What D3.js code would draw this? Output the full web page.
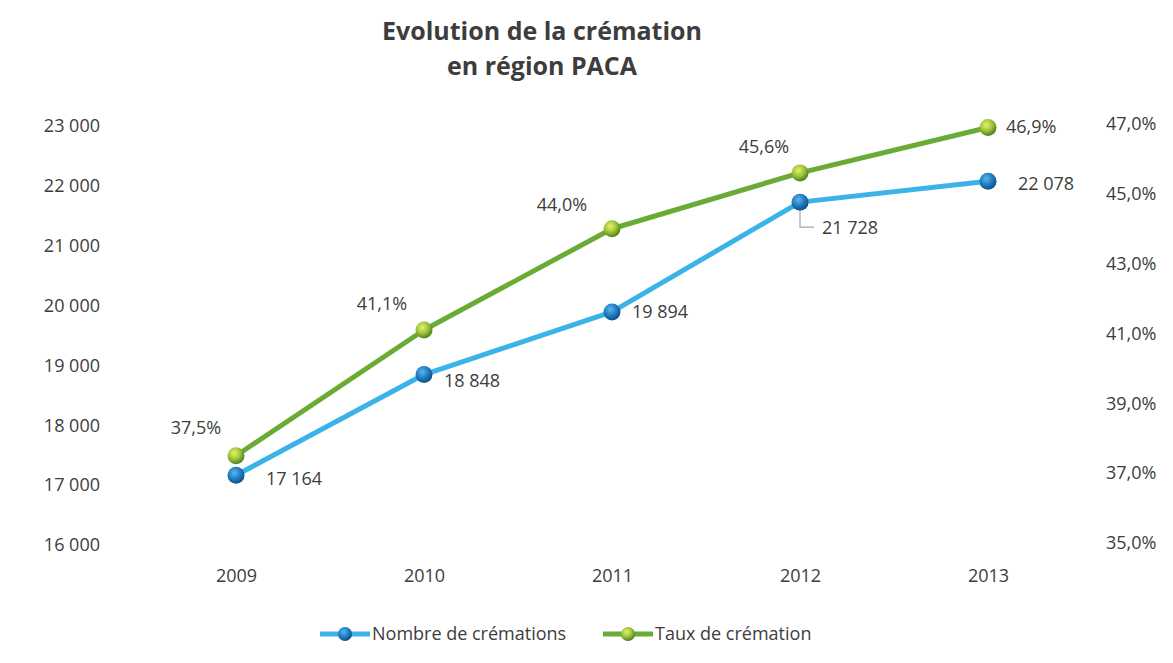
<!DOCTYPE html>
<html>
<head>
<meta charset="utf-8">
<script src="https://cdn.jsdelivr.net/npm/d3@7"></script>
<style>
  body { margin: 0; background: #fff; }
  text { font-family: "Open Sans", sans-serif; fill: #3d3d3d; }
</style>
</head>
<body>
<div id="chart"></div>
<script>
const width = 1173;
const height = 663;

const years = ["2009", "2010", "2011", "2012", "2013"];
const nombre = [17164, 18848, 19894, 21728, 22078];
const taux = [37.5, 41.1, 44.0, 45.6, 46.9];
const leftTicks = [16000, 17000, 18000, 19000, 20000, 21000, 22000, 23000];
const rightTicks = [35, 37, 39, 41, 43, 45, 47];

const blueLine = "#3cb3e8";
const greenLine = "#6aab36";
const fontFam = "'Open Sans', sans-serif";
const fontSize = "18px";

// label placement per point (layout only)
const tauxLabelPos = [
  {dx: -40, dy: -22, anchor: "middle"},
  {dx: -42, dy: -20, anchor: "middle"},
  {dx: -50, dy: -18, anchor: "middle"},
  {dx: -36, dy: -20, anchor: "middle"},
  {dx: 18, dy: 6, anchor: "start"}
];
const nombreLabelPos = [
  {dx: 30, dy: 10, anchor: "start"},
  {dx: 20, dy: 12, anchor: "start"},
  {dx: 20, dy: 6, anchor: "start"},
  {dx: 22, dy: 32, anchor: "start"},
  {dx: 30, dy: 9, anchor: "start"}
];

const svg = d3.select("#chart").append("svg")
  .attr("width", width)
  .attr("height", height);

const defs = svg.append("defs");
function ballGradient(id, light, mid, dark) {
  const g = defs.append("radialGradient").attr("id", id)
    .attr("cx", "40%").attr("cy", "35%").attr("r", "65%");
  g.append("stop").attr("offset", "0%").attr("stop-color", light);
  g.append("stop").attr("offset", "55%").attr("stop-color", mid);
  g.append("stop").attr("offset", "100%").attr("stop-color", dark);
}
ballGradient("ballBlue", "#5fb4e8", "#1f7fc4", "#0f4f86");
ballGradient("ballGreen", "#e8f06a", "#9cc43a", "#4f7d1c");

const x = d3.scalePoint().domain(years).range([236, 988]);
const yL = d3.scaleLinear().domain([16000, 23000]).range([545, 126]);
const yR = d3.scaleLinear().domain([35, 47]).range([543, 124]);

// title
svg.append("text")
  .attr("x", 542).attr("y", 40)
  .attr("text-anchor", "middle")
  .style("font-size", "25px").style("font-weight", "bold")
  .text("Evolution de la crémation");
svg.append("text")
  .attr("x", 542).attr("y", 75)
  .attr("text-anchor", "middle")
  .style("font-size", "25px").style("font-weight", "bold")
  .text("en région PACA");

const fmtNum = d => d3.format(",")(d).replace(/,/g, " ");
const fmtPct = (d, p) => d.toFixed(p).replace(".", ",") + "%";

function styleTicks(g) {
  g.select(".domain").remove();
  g.selectAll("text").style("font-size", fontSize).attr("fill", "#3d3d3d")
    .style("font-family", fontFam);
}

// left axis
svg.append("g")
  .attr("transform", "translate(100,0)")
  .call(d3.axisLeft(yL).tickValues(leftTicks).tickSize(0).tickPadding(0).tickFormat(fmtNum))
  .call(styleTicks);

// right axis
svg.append("g")
  .attr("transform", "translate(1106,0)")
  .call(d3.axisRight(yR).tickValues(rightTicks).tickSize(0).tickPadding(0).tickFormat(d => fmtPct(d, 1)))
  .call(styleTicks);

// x axis
svg.append("g")
  .attr("transform", "translate(0,569)")
  .call(d3.axisBottom(x).tickSize(0).tickPadding(0))
  .call(styleTicks);

// lines
const lineN = d3.line().x((d, i) => x(years[i])).y(d => yL(d));
const lineT = d3.line().x((d, i) => x(years[i])).y(d => yR(d));

svg.append("path").datum(taux)
  .attr("d", lineT).attr("fill", "none")
  .attr("stroke", greenLine).attr("stroke-width", 5).attr("stroke-linejoin", "round");
svg.append("path").datum(nombre)
  .attr("d", lineN).attr("fill", "none")
  .attr("stroke", blueLine).attr("stroke-width", 5).attr("stroke-linejoin", "round");

// leader line for 21 728
svg.append("path")
  .attr("d", `M${x("2012")},${yL(21728) + 9}V${yL(21728) + 25}H${x("2012") + 14}`)
  .attr("fill", "none").attr("stroke", "#9aa6b2").attr("stroke-width", 1.2);

// markers
svg.append("g").selectAll("circle")
  .data(taux).join("circle")
  .attr("cx", (d, i) => x(years[i])).attr("cy", d => yR(d))
  .attr("r", 8.5).attr("fill", "url(#ballGreen)");
svg.append("g").selectAll("circle")
  .data(nombre).join("circle")
  .attr("cx", (d, i) => x(years[i])).attr("cy", d => yL(d))
  .attr("r", 8.5).attr("fill", "url(#ballBlue)");

// data labels
svg.append("g").selectAll("text")
  .data(taux).join("text")
  .attr("x", (d, i) => x(years[i]) + tauxLabelPos[i].dx)
  .attr("y", (d, i) => yR(d) + tauxLabelPos[i].dy)
  .attr("text-anchor", (d, i) => tauxLabelPos[i].anchor)
  .style("font-size", fontSize)
  .text(d => fmtPct(d, 1));
svg.append("g").selectAll("text")
  .data(nombre).join("text")
  .attr("x", (d, i) => x(years[i]) + nombreLabelPos[i].dx)
  .attr("y", (d, i) => yL(d) + nombreLabelPos[i].dy)
  .attr("text-anchor", (d, i) => nombreLabelPos[i].anchor)
  .style("font-size", fontSize)
  .text(d => fmtNum(d));

// legend
const legend = [
  {name: "Nombre de crémations", color: blueLine, ball: "url(#ballBlue)", x: 320},
  {name: "Taux de crémation", color: greenLine, ball: "url(#ballGreen)", x: 603}
];
const lg = svg.append("g").selectAll("g").data(legend).join("g")
  .attr("transform", d => `translate(${d.x},634)`);
lg.append("line").attr("x1", 0).attr("x2", 50).attr("y1", 0).attr("y2", 0)
  .attr("stroke", d => d.color).attr("stroke-width", 5);
lg.append("circle").attr("cx", 25).attr("cy", 0).attr("r", 7).attr("fill", d => d.ball);
lg.append("text").attr("x", 52).attr("y", 6).style("font-size", fontSize).text(d => d.name);
</script>
</body>
</html>
